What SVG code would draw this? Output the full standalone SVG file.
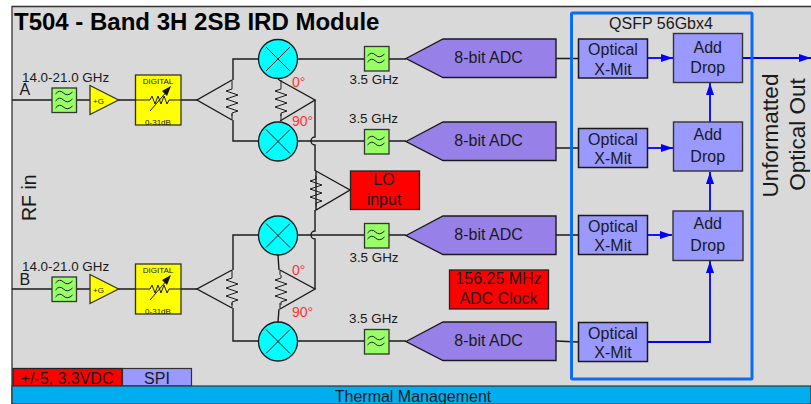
<svg xmlns="http://www.w3.org/2000/svg" width="811" height="404" viewBox="0 0 811 404">
<style>
text{font-family:"Liberation Sans",Arial,sans-serif;fill:#1a1a1a}
.m{text-anchor:middle}
.w{fill:none;stroke:#1a1a1a;stroke-width:1.4}
.t{fill:none;stroke:#1a1a1a;stroke-width:1}
.b{fill:none;stroke:#0000ff;stroke-width:1.800}
.mix{fill:#00ffff;stroke:#1a1a1a;stroke-width:1.300}
.flt{fill:#99ff66;stroke:#333;stroke-width:1.300}
.adc{fill:#9781e8;stroke:#1a1a1a;stroke-width:1.400}
.opt{fill:#9999ff;stroke:#1a1a1a;stroke-width:1.500}
.add{fill:#9999ff;stroke:#333;stroke-width:1.400}
.yel{fill:#ffff00;stroke:#333;stroke-width:1.300}
.red{fill:#ff0000;stroke:#222;stroke-width:1.300}
.deg{fill:#ff3333;font-size:14px}
.g{font-size:13.400px}
.f16{font-size:16px}
.s{font-size:8px}
</style>
<defs>
<marker id="ah" markerUnits="userSpaceOnUse" markerWidth="12" markerHeight="8" refX="12" refY="4" orient="auto"><path d="M0,0 L12,4 L0,8 Z" fill="#0000ff"/></marker>
<g id="lp"><path class="t" d="M-9,-3 q4,-5 8,-1 t9,-1 M-9,3 q4,-5 8,-1 t9,-1"/></g>
<g id="bp"><path class="t" d="M-9,-7 q4,-5 8,-1 t9,-1 M-9,0 q4,-5 8,-1 t9,-1 M-9,7 q4,-5 8,-1 t9,-1"/></g>
<g id="xm"><circle class="mix" r="19.500"/><path class="t" d="M-12,-12 L12,12 M-12,12 L12,-12"/></g>
<g id="att">
<rect class="yel" x="-22.500" y="-25" width="45.500" height="50"/>
<path class="t" d="M-22.500,0 H-8 l2,-4 l3,8 l3,-8 l3,8 l3,-8 l3,8 l2,-4 H23"/>
<path class="t" d="M-8,11 L10,-10"/><path d="M13,-14 L4,-9 L9,-4 Z" fill="#111"/>
<text class="m s" y="-16">DIGITAL</text>
<text class="m s" y="25">0-31dB</text>
</g>
<g id="amp"><path class="yel" d="M0,-14.500 L28.500,0 L0,14.500 Z"/><text x="3" y="3.500" class="s">+G</text></g>
<path id="rz" class="t" d="M0,-14 v3 l-6,2 l12,4 l-12,4 l12,4 l-12,4 l12,4 l-6,2 v3"/>
</defs>
<rect x="12" y="7" width="799" height="397" fill="#d9d9d9"/>
<path d="M12,404 V6.500 H811" fill="none" stroke="#333" stroke-width="1.300"/>
<text x="14" y="30" style="font-size:24px;font-weight:bold;fill:#000">T504 - Band 3H 2SB IRD Module</text>

<g id="connectors">
<path class="w" d="M12,100 H52 M76,100 H90 M118,100 H135 M181,100 H197"/>
<path class="w" d="M12,289 H52 M76,289 H90 M118,289 H135 M181,289 H197"/>
<path class="w" d="M259,59 H233 V80 M233,120 V141 H259"/>
<path class="w" d="M259,235 H233 V270 M233,308 V341 H259"/>
<path class="w" d="M297,59 H364 M389,59 H406"/>
<path class="w" d="M297,141 H364 M389,141 H406"/>
<path class="w" d="M297,235 H364 M389,235 H406"/>
<path class="w" d="M297,341 H364 M389,341 H406"/>
<path class="w" d="M315,100 V137 a4,4 0 0 0 0,8 V171"/>
<path class="w" d="M315,210 V231 a4,4 0 0 0 0,8 V289"/>
<path class="w" d="M278,78 L279,80 M278,255 L279,270 M279,309 L278,322"/>
<path class="w" d="M556,58.500 H578 M556,148 H578 M556,235 H578 M556,341 L578,342"/>
<path class="b" d="M648,58 H673" marker-end="url(#ah)"/>
<path class="b" d="M648,148 H673" marker-end="url(#ah)"/>
<path class="b" d="M648,235 H672" marker-end="url(#ah)"/>
<path class="b" d="M648,342 H710 V261" marker-end="url(#ah)"/>
<path class="b" d="M710,122 V83" marker-end="url(#ah)"/>
<path class="b" d="M710,211 V172" marker-end="url(#ah)"/>
<path class="b" d="M743,58 H811" marker-end="url(#ah)"/>
</g>

<g id="in-labels">
<text x="19.500" y="95" class="f16">A</text>
<text x="22" y="81.700" class="g">14.0-21.0 GHz</text>
<text x="19.500" y="285" class="f16">B</text>
<text x="22" y="270.700" class="g">14.0-21.0 GHz</text>
<text transform="translate(36,221) rotate(-90)" style="font-size:19.500px">RF in</text>
</g>

<g id="chain-a"><rect class="flt" x="52" y="88" width="24.500" height="24.500"/><use href="#bp" x="64.500" y="101"/><use href="#amp" x="90" y="100"/><use href="#att" x="158" y="100"/></g>
<g id="chain-b"><rect class="flt" x="52" y="277" width="24.500" height="24.500"/><use href="#bp" x="64.500" y="290"/><use href="#amp" x="90" y="289"/><use href="#att" x="158" y="289"/></g>

<g id="split-a"><path class="w" d="M232,80 L197,100 L232,120"/><use href="#rz" x="232" y="100"/><path class="t" d="M232,80 V86 M232,114 V120"/></g>
<g id="split-b"><path class="w" d="M232,270 L197,289 L232,308"/><use href="#rz" x="232" y="289"/><path class="t" d="M232,270 V275 M232,303 V308"/></g>
<g id="hyb-a"><path class="w" d="M279,80 L315,100 L280,121"/><use href="#rz" x="281" y="100"/><path class="t" d="M281,80 V86 M281,114 V121"/></g>
<g id="hyb-b"><path class="w" d="M280,270 L315,289 L280,309"/><use href="#rz" x="281" y="289"/><path class="t" d="M280,270 V275 M280,303 V309"/></g>
<g id="lo-split"><path class="w" d="M316,171 L350,190 L316,210 Z"/><use href="#rz" x="316" y="190"/></g>

<g id="mixers"><use href="#xm" x="278" y="59"/><use href="#xm" x="278" y="141.500"/><use href="#xm" x="278" y="235.500"/><use href="#xm" x="278" y="341.500"/></g>

<g id="deg">
<text class="deg" x="292" y="87">0°</text><text class="deg" x="292" y="126">90°</text>
<text class="deg" x="292" y="275">0°</text><text class="deg" x="292" y="317">90°</text>
</g>

<g id="lpf1"><rect class="flt" x="364.500" y="46.500" width="24.500" height="24.500"/><use href="#lp" x="376.500" y="59"/><text class="m g" x="374" y="84.300">3.5 GHz</text></g>
<g id="lpf2"><rect class="flt" x="364.500" y="129.500" width="24.500" height="24.500"/><use href="#lp" x="376.500" y="142"/><text class="m g" x="373.500" y="122.700">3.5 GHz</text></g>
<g id="lpf3"><rect class="flt" x="364.500" y="223.500" width="24.500" height="24.500"/><use href="#lp" x="376.500" y="236"/><text class="m g" x="374" y="261.700">3.5 GHz</text></g>
<g id="lpf4"><rect class="flt" x="364.500" y="329.500" width="24.500" height="24.500"/><use href="#lp" x="376.500" y="342"/><text class="m g" x="373.500" y="322.700">3.5 GHz</text></g>

<g id="adc1"><path class="adc" d="M406,58.500 L443,39 H556 V77.500 H443 Z"/><text class="m f16" x="488.500" y="63">8-bit ADC</text></g>
<g id="adc2"><path class="adc" d="M406,141.500 L443,122 H556 V160.500 H443 Z"/><text class="m f16" x="488.500" y="146">8-bit ADC</text></g>
<g id="adc3"><path class="adc" d="M406,235.500 L443,216 H556 V254.500 H443 Z"/><text class="m f16" x="488.500" y="240">8-bit ADC</text></g>
<g id="adc4"><path class="adc" d="M406,341.500 L443,322 H556 V360.500 H443 Z"/><text class="m f16" x="488.500" y="346">8-bit ADC</text></g>

<g id="lo"><rect class="red" x="350.500" y="171" width="69" height="38.500"/><text class="m f16" x="384" y="185">LO</text><text class="m f16" x="384" y="205">input</text></g>
<g id="clock"><rect class="red" x="449.500" y="270" width="99" height="39"/><text class="m f16" x="498.500" y="284">156.25 MHz</text><text class="m f16" x="498.500" y="304">ADC Clock</text></g>

<g id="qsfp"><rect x="571.500" y="13" width="180.500" height="366" rx="1" fill="none" stroke="#0a6cf5" stroke-width="3"/><text class="m f16" x="661" y="29">QSFP 56Gbx4</text></g>

<g id="opt1"><rect class="opt" x="578.500" y="39" width="69" height="39"/><text class="m f16" x="613" y="55">Optical</text><text class="m f16" x="613" y="75">X-Mit</text></g>
<g id="opt2"><rect class="opt" x="578.500" y="128.500" width="69" height="39"/><text class="m f16" x="613" y="145">Optical</text><text class="m f16" x="613" y="164">X-Mit</text></g>
<g id="opt3"><rect class="opt" x="578.500" y="215.500" width="69" height="39"/><text class="m f16" x="613" y="232">Optical</text><text class="m f16" x="613" y="251">X-Mit</text></g>
<g id="opt4"><rect class="opt" x="578.500" y="322.500" width="69" height="39"/><text class="m f16" x="613" y="339">Optical</text><text class="m f16" x="613" y="357.500">X-Mit</text></g>

<g id="add1"><rect class="add" x="673.500" y="33.500" width="69" height="49"/><text class="m f16" x="707.700" y="53">Add</text><text class="m f16" x="707.700" y="73">Drop</text></g>
<g id="add2"><rect class="add" x="673.500" y="122" width="69" height="49"/><text class="m f16" x="707.700" y="140">Add</text><text class="m f16" x="707.700" y="162">Drop</text></g>
<g id="add3"><rect class="add" x="673" y="211" width="70" height="49.500"/><text class="m f16" x="707.700" y="229">Add</text><text class="m f16" x="707.700" y="251">Drop</text></g>

<g id="out-labels">
<text class="m" style="font-size:22.500px" transform="translate(777.700,135.500) rotate(-90)">Unformatted</text>
<text class="m" style="font-size:22.500px" transform="translate(805,134.500) rotate(-90)">Optical Out</text>
</g>

<g id="power"><rect class="red" x="13" y="368.500" width="109" height="17.500"/><text class="m f16" x="67" y="384">+/-5, 3.3VDC</text></g>
<g id="spi"><rect x="122.500" y="368.500" width="69" height="17.500" fill="#9999ff" stroke="#333" stroke-width="1.200"/><text class="m f16" x="157" y="384">SPI</text></g>
<g id="thermal"><rect x="12" y="386" width="799" height="18" fill="#00aeef" stroke="#333" stroke-width="1.200"/><text class="m f16" x="413" y="402">Thermal Management</text></g>
</svg>
